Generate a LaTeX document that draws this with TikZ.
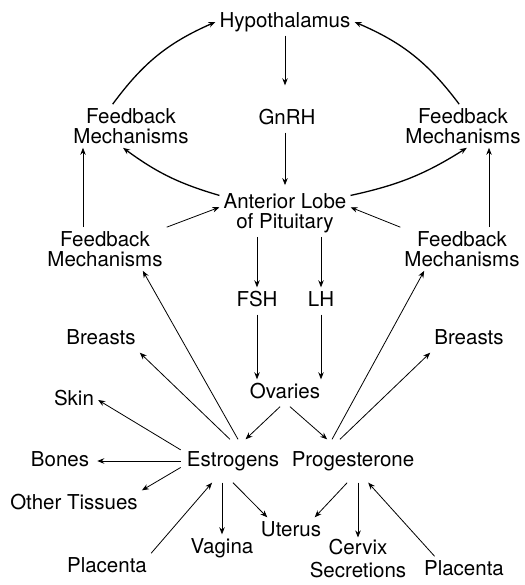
\documentclass[tikz,border=0pt]{standalone}
\usepackage{fontspec}
\setmainfont{TeX Gyre Heros}
\usetikzlibrary{arrows.meta}

\begin{document}
\begin{tikzpicture}[x=1pt,y=-1pt,
  lbl/.style={font=\fontsize{20.5}{20}\selectfont,inner sep=4pt,text height=15pt,text depth=4pt},
  lbltwo/.style={font=\fontsize{20.5}{20}\selectfont,inner sep=4pt,align=center},
  hormone/.style={lbl,inner xsep=6pt,inner ysep=12pt},
  arr/.style={-{Stealth[length=7pt,width=5.5pt]},line width=0.8pt},
  bendarr/.style={arr,line width=1.3pt}]
\useasboundingbox (0,0) rectangle (524,585);
% labels:
\node[lbl] (hyp) at (285,22) {Hypothalamus};
\node[lbl] (gnrh) at (287,119) {GnRH};
\node[lbltwo] (fbul) at (131,126) {Feedback\\Mechanisms};
\node[lbltwo] (fbur) at (463,126) {Feedback\\Mechanisms};
\node[lbltwo] (ant) at (285,213) {Anterior Lobe\\of Pituitary};
\node[lbltwo] (fbll) at (105,249) {Feedback\\Mechanisms};
\node[lbltwo] (fblr) at (462,249) {Feedback\\Mechanisms};
\node[lbl] (fsh) at (257,301) {FSH};
\node[lbl] (lh) at (321,301) {LH};
\node[lbl] (brl) at (101,339) {Breasts};
\node[lbl] (brr) at (469,339) {Breasts};
\node[lbl] (ova) at (285,393) {Ovaries};
\node[lbl] (skin) at (74,400) {Skin};
\node[hormone] (estr) at (233,461) {Estrogens};
\node[hormone] (prog) at (353,461) {Progesterone};
\node[lbl] (bones) at (60,461) {Bones};
\node[lbl] (other) at (74,504) {Other Tissues};
\node[lbl] (uter) at (291,531) {Uterus};
\node[lbl] (vag) at (222,548) {Vagina};
\node[lbltwo,inner ysep=2pt] (cerv) at (358,559) {Cervix\\[3pt]Secretions};
\node[lbl] (plal) at (107,567) {Placenta};
\node[lbl] (plar) at (464,570) {Placenta};
% arrows:
\draw[arr,shorten >=20pt] (hyp.south) -- (hyp.south |- gnrh.north);
\draw[arr,shorten >=4pt] (ant.north |- gnrh.south) -- (ant.north);
\draw[bendarr] (fbul.130) to[bend left=15] (hyp.west);
\draw[bendarr] (fbur.100) to[bend right=15] (hyp.east);
\draw[bendarr] (ant.165) to[bend left=10] (fbul.-110);
\draw[bendarr] (ant.15) to[bend right=10] (fbur.-80);
\draw[arr] ([xshift=-22pt]fbll.north) -- ([xshift=-22pt]fbll.north |- fbul.south);
\draw[arr] ([xshift=27pt]fblr.north) -- ([xshift=27pt]fblr.north |- fbur.south);
\draw[arr] (fbll.north east) -- (ant.175);
\draw[arr] (fblr.north west) -- (ant.5);
\draw[arr] (ant.south -| fsh.north) -- (fsh.north);
\draw[arr] (ant.south -| lh.north) -- (lh.north);
\draw[arr] (fsh.south) -- (fsh.south |- ova.north);
\draw[arr] (lh.south) -- (lh.south |- ova.north);
\draw[arr] (ova.-110) -- (estr.60);
\draw[arr] (ova.-70) -- (prog.140);
\draw[arr] (estr.77) -- (fbll.-30);
\draw[arr] (estr.98) -- (brl.south east);
\draw[arr] (prog.134) -- (fblr.-150);
\draw[arr] (prog.121) -- (brr.south west);
\draw[arr] (estr.168) -- (skin.east);
\draw[arr,shorten >=4pt] (estr.west) -- (bones.east);
\draw[arr] (estr.187) -- (other.north east);
\draw[arr] (plal.north east) -- (estr.226);
\draw[arr] (estr.south -| vag.north) -- (vag.north);
\draw[arr] (estr.south) -- (uter.150);
\draw[arr] (prog.-105) -- (uter.30);
\draw[arr] (prog.south -| cerv.north) -- (cerv.north);
\draw[arr] (plar.155) -- (prog.-55);
\end{tikzpicture}
\end{document}
